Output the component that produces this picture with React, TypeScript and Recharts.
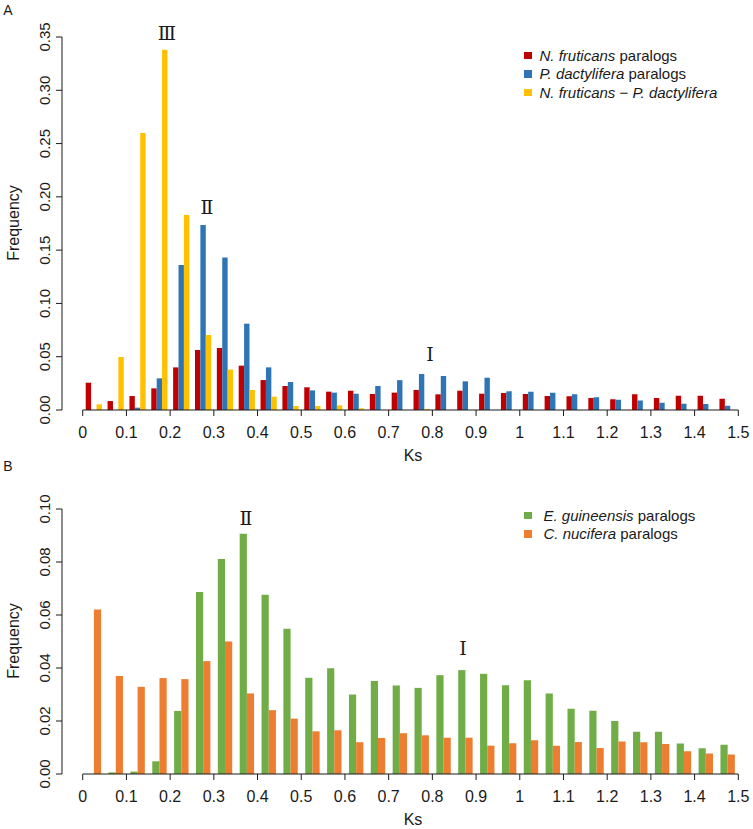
import React from 'react';
import { BarChart, Bar, XAxis, YAxis, ReferenceLine, Legend } from 'recharts';

// Ks bin midpoints (bin width 0.05)
const ksBins = [
  0.025, 0.075, 0.125, 0.175, 0.225, 0.275, 0.325, 0.375, 0.425, 0.475,
  0.525, 0.575, 0.625, 0.675, 0.725, 0.775, 0.825, 0.875, 0.925, 0.975,
  1.025, 1.075, 1.125, 1.175, 1.225, 1.275, 1.325, 1.375, 1.425, 1.475,
];
const ksTicks = [0, 0.1, 0.2, 0.3, 0.4, 0.5, 0.6, 0.7, 0.8, 0.9, 1, 1.1, 1.2, 1.3, 1.4, 1.5];
const freqTicksA = [0, 0.05, 0.1, 0.15, 0.2, 0.25, 0.3, 0.35];
const freqTicksB = [0, 0.02, 0.04, 0.06, 0.08, 0.1];

// panel A
const nfParalogs = [
  0.0256, 0.0084, 0.0131, 0.0203, 0.04, 0.0563, 0.0582, 0.0416, 0.0281, 0.0225,
  0.0213, 0.0172, 0.0181, 0.015, 0.0163, 0.0188, 0.0147, 0.0181, 0.0153, 0.016,
  0.015, 0.0131, 0.0128, 0.0113, 0.01, 0.0147, 0.0113, 0.0134, 0.0134, 0.0106,
];
const pdParalogs = [
  0, 0, 0.0022, 0.0297, 0.136, 0.1735, 0.143, 0.081, 0.04, 0.0263,
  0.0184, 0.0163, 0.0153, 0.0225, 0.028, 0.0338, 0.0319, 0.0269, 0.0303, 0.0175,
  0.0172, 0.0163, 0.0147, 0.0119, 0.0097, 0.0088, 0.0069, 0.0059, 0.0056, 0.0041,
];
const nfPdOrthologs = [
  0.0053, 0.0497, 0.26, 0.338, 0.183, 0.0704, 0.038, 0.0188, 0.0125, 0.0038,
  0.0038, 0.0044, 0.0016, 0, 0, 0.001, 0, 0, 0, 0,
  0, 0, 0, 0, 0, 0, 0, 0, 0, 0,
];

// panel B
const egParalogs = [
  0, 0.0006, 0.0009, 0.0048, 0.0238, 0.0687, 0.0811, 0.0907, 0.0676, 0.0548,
  0.0363, 0.0399, 0.03, 0.0351, 0.0334, 0.0325, 0.0373, 0.0392, 0.0378, 0.0335,
  0.0354, 0.0304, 0.0246, 0.0239, 0.02, 0.0159, 0.0159, 0.0115, 0.0097, 0.011,
];
const cnParalogs = [
  0.0621, 0.037, 0.0329, 0.0362, 0.0358, 0.0426, 0.05, 0.0304, 0.0241, 0.0209,
  0.0161, 0.0165, 0.012, 0.0136, 0.0154, 0.0146, 0.0137, 0.0137, 0.0107, 0.0116,
  0.0127, 0.0107, 0.0121, 0.0098, 0.0123, 0.012, 0.0113, 0.0086, 0.0077, 0.0074,
];

const dataA = ksBins.map((ks, i) => ({
  ks,
  nf: nfParalogs[i],
  pd: pdParalogs[i],
  nfpd: nfPdOrthologs[i],
}));
const dataB = ksBins.map((ks, i) => ({
  ks,
  eg: egParalogs[i],
  cn: cnParalogs[i],
}));

const FONT = '"Liberation Sans", Arial, sans-serif';
const INK = '#1a1a1a';

const RotatedTick = (props: any) => {
  const { x, y, payload } = props;
  return (
    <text
      x={x}
      y={y}
      transform={`rotate(-90, ${x}, ${y})`}
      textAnchor="middle"
      fontSize={15}
      fontFamily={FONT}
      fill={INK}
    >
      {Number(payload.value).toFixed(2)}
    </text>
  );
};

interface LegendItem {
  color: string;
  parts: { text: string; italic: boolean }[];
}

const legendA: LegendItem[] = [
  { color: '#C00000', parts: [{ text: 'N. fruticans', italic: true }, { text: ' paralogs', italic: false }] },
  { color: '#2E75B6', parts: [{ text: 'P. dactylifera', italic: true }, { text: ' paralogs', italic: false }] },
  {
    color: '#FFC000',
    parts: [
      { text: 'N. fruticans', italic: true },
      { text: ' \u2212 ', italic: false },
      { text: 'P. dactylifera', italic: true },
    ],
  },
];
const legendB: LegendItem[] = [
  { color: '#70AD47', parts: [{ text: 'E. guineensis', italic: true }, { text: ' paralogs', italic: false }] },
  { color: '#ED7D31', parts: [{ text: 'C. nucifera', italic: true }, { text: ' paralogs', italic: false }] },
];

const SpeciesLegend = ({ items, gap }: { items: LegendItem[]; gap: number }) => (
  <div style={{ fontFamily: FONT, fontSize: 15, color: INK }}>
    {items.map((item, i) => (
      <div key={i} style={{ display: 'flex', alignItems: 'center', height: 18.5 }}>
        <span style={{ width: 7.5, height: 7.5, background: item.color, marginRight: gap }} />
        <span style={{ whiteSpace: 'nowrap' }}>
          {item.parts.map((p, j) => (
            <span key={j} style={{ fontStyle: p.italic ? 'italic' : 'normal' }}>{p.text}</span>
          ))}
        </span>
      </div>
    ))}
  </div>
);

const Overlay = ({ x, y, children, style }: { x: number; y: number; children: React.ReactNode; style?: React.CSSProperties }) => (
  <div
    style={{
      position: 'absolute',
      left: x,
      top: y,
      transform: 'translate(-50%, -50%)',
      lineHeight: 1,
      whiteSpace: 'nowrap',
      ...style,
    }}
  >
    {children}
  </div>
);

const roman: React.CSSProperties = { fontFamily: '"DejaVu Serif", serif', fontSize: 19, color: INK };
const axisText: React.CSSProperties = { fontFamily: FONT, fontSize: 16, color: INK };

const xTickStyle = { fontSize: 16, fontFamily: FONT, fill: INK };

export default function App() {
  return (
    <div style={{ position: 'absolute', left: 0, top: 0, width: 753, height: 829, background: '#fff', overflow: 'hidden' }}>
      {/* Panel A */}
      <div style={{ position: 'absolute', left: 0, top: 0 }}>
        <BarChart width={753} height={440} data={dataA} margin={{ top: 37, right: 14.7, bottom: 0, left: 12 }} barGap={0}>
          <XAxis
            dataKey="ks"
            type="number"
            domain={[-0.0474, 1.5]}
            ticks={ksTicks}
            interval={0}
            allowDataOverflow
            axisLine={false}
            tickLine={{ stroke: INK }}
            tickSize={6}
            tickMargin={11}
            height={30}
            tick={xTickStyle}
            tickFormatter={(v: number) => String(v)}
          />
          <YAxis
            domain={[0, 0.35]}
            ticks={freqTicksA}
            interval={0}
            width={50}
            axisLine={{ stroke: INK }}
            tickLine={{ stroke: INK }}
            tickSize={6}
            tickMargin={6}
            tick={<RotatedTick />}
          />
          <ReferenceLine segment={[{ x: 0, y: 0 }, { x: 1.5, y: 0 }]} stroke={INK} ifOverflow="visible" />
          <Bar dataKey="nf" fill="#C00000" barSize={5.4} isAnimationActive={false} />
          <Bar dataKey="pd" fill="#2E75B6" barSize={5.4} isAnimationActive={false} />
          <Bar dataKey="nfpd" fill="#FFC000" barSize={5.4} isAnimationActive={false} />
          <Legend
            layout="vertical"
            align="center"
            verticalAlign="middle"
            content={() => <SpeciesLegend items={legendA} gap={8} />}
            wrapperStyle={{ top: 46, left: 524, width: 229 }}
          />
        </BarChart>
      </div>

      {/* Panel B */}
      <div style={{ position: 'absolute', left: 0, top: 470 }}>
        <BarChart width={753} height={334} data={dataB} margin={{ top: 39, right: 14.7, bottom: 0, left: 12 }} barGap={0}>
          <XAxis
            dataKey="ks"
            type="number"
            domain={[-0.0474, 1.5]}
            ticks={ksTicks}
            interval={0}
            allowDataOverflow
            axisLine={false}
            tickLine={{ stroke: INK }}
            tickSize={6}
            tickMargin={11}
            height={30}
            tick={xTickStyle}
            tickFormatter={(v: number) => String(v)}
          />
          <YAxis
            domain={[0, 0.1]}
            ticks={freqTicksB}
            interval={0}
            width={50}
            axisLine={{ stroke: INK }}
            tickLine={{ stroke: INK }}
            tickSize={6}
            tickMargin={6}
            tick={<RotatedTick />}
          />
          <ReferenceLine segment={[{ x: 0, y: 0 }, { x: 1.5, y: 0 }]} stroke={INK} ifOverflow="visible" />
          <Bar dataKey="eg" fill="#70AD47" barSize={7.2} isAnimationActive={false} />
          <Bar dataKey="cn" fill="#ED7D31" barSize={7.2} isAnimationActive={false} />
          <Legend
            layout="vertical"
            align="center"
            verticalAlign="middle"
            content={() => <SpeciesLegend items={legendB} gap={12} />}
            wrapperStyle={{ top: 36, left: 524, width: 229 }}
          />
        </BarChart>
      </div>

      {/* panel letters, axis titles and peak marks */}
      <Overlay x={8} y={10} style={{ ...axisText, fontSize: 14 }}>A</Overlay>
      <Overlay x={8} y={466} style={{ ...axisText, fontSize: 14 }}>B</Overlay>

      <Overlay x={14} y={223} style={{ ...axisText, transform: 'translate(-50%, -50%) rotate(-90deg)' }}>Frequency</Overlay>
      <Overlay x={14} y={641} style={{ ...axisText, transform: 'translate(-50%, -50%) rotate(-90deg)' }}>Frequency</Overlay>
      <Overlay x={413} y={456} style={axisText}>Ks</Overlay>
      <Overlay x={413} y={820} style={axisText}>Ks</Overlay>

      <Overlay x={167} y={33} style={roman}>Ⅲ</Overlay>
      <Overlay x={207} y={207} style={roman}>Ⅱ</Overlay>
      <Overlay x={430} y={354} style={roman}>Ⅰ</Overlay>
      <Overlay x={246} y={518} style={roman}>Ⅱ</Overlay>
      <Overlay x={463} y={648} style={roman}>Ⅰ</Overlay>
    </div>
  );
}
